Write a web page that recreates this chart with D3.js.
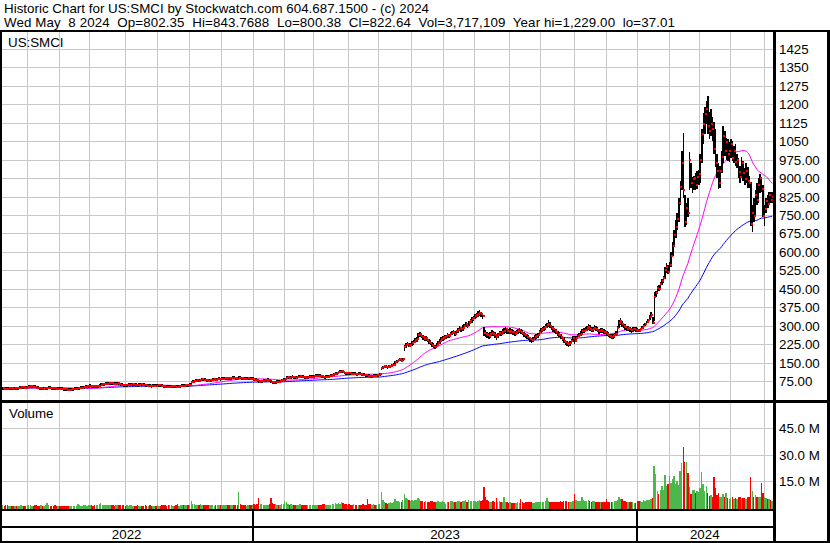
<!DOCTYPE html>
<html>
<head>
<meta charset="utf-8">
<script src="https://cdn.jsdelivr.net/npm/d3@7/dist/d3.min.js"></script>
<style>
body { margin: 0; background: #fff; }
svg text { font-family: "Liberation Sans", Arial, sans-serif; font-size: 13.33px; fill: #000; white-space: pre; }
</style>
</head>
<body>
<svg id="chart" width="830" height="543"></svg>
<script>
// trading days per month, May 2022 (from the 9th) .. May 2024 (to the 8th)
var monthDays = [16, 21, 20, 23, 21, 21, 21, 21,
                 20, 19, 23, 19, 22, 21, 20, 23, 20, 22, 21, 20,
                 21, 20, 20, 22, 6];
var yearLabels = ["2022", "2023", "2024"];
var monthsPerYear = [8, 12, 5];

var headerLines = [
    "Historic Chart for US:SMCI by Stockwatch.com 604.687.1500 - (c) 2024",
    "Wed May  8 2024  Op=802.35  Hi=843.7688  Lo=800.38  Cl=822.64  Vol=3,717,109  Year hi=1,229.00  lo=37.01"
];
var headerWidths = [425, 671];

var priceTicks = [75, 150, 225, 300, 375, 450, 525, 600, 675, 750, 825, 900, 975, 1050, 1125, 1200, 1275, 1350, 1425];
var priceTickLabels = ["75.00", "150.00", "225.00", "300.00", "375.00", "450.00", "525.00", "600.00", "675.00",
                       "750.00", "825.00", "900.00", "975.00", "1050", "1125", "1200", "1275", "1350", "1425"];
var volTicks = [15, 30, 45];
var volTickLabels = ["15.0 M", "30.0 M", "45.0 M"];

// daily closes / highs / lows, one line per month
var close2022 = [
    45.5, 44.2, 43.8, 43.0, 45.2, 46.0, 45.5, 44.0, 45.8, 45.0, 46.5, 47.8, 48.5, 49.2, 48.0, 47.6,
    49.5, 51.0, 52.5, 53.8, 52.0, 50.5, 48.0, 46.0, 44.5, 45.0, 43.5, 44.8, 45.5, 46.6, 47.5, 46.0, 45.2, 44.5, 44.4, 43.8, 44.2,
    44.0, 43.2, 42.5, 41.2, 40.5, 40.0, 39.5, 40.2, 41.0, 42.5, 43.2, 44.0, 45.5, 46.0, 47.2, 48.0, 49.5, 51.0, 53.5, 54.6,
    55.0, 54.0, 53.0, 52.5, 53.8, 54.5, 56.0, 60.5, 61.0, 62.5, 63.2, 64.0, 65.5, 66.8, 65.0, 63.5, 62.8, 64.5, 66.0, 64.0, 60.5, 59.0, 58.0,
    57.5, 58.8, 59.5, 60.0, 61.2, 62.0, 60.5, 59.0, 58.2, 59.8, 61.0, 60.0, 58.5, 57.0, 55.8, 56.5, 55.0, 54.0, 55.5, 56.2, 56.0,
    57.0, 58.5, 56.0, 54.2, 53.0, 52.0, 51.2, 50.5, 51.8, 53.0, 54.5, 53.2, 52.0, 51.5, 53.0, 54.8, 56.0, 55.2, 57.0, 58.5, 57.8,
    59.5, 71.0, 72.5, 74.0, 75.5, 77.0, 75.0, 79.5, 81.0, 80.0, 78.5, 77.2, 76.0, 77.8, 79.0, 80.5, 81.2, 80.0, 82.0, 83.0, 82.5,
    83.5, 84.0, 85.5, 87.0, 86.0, 85.2, 87.5, 89.0, 88.0, 86.5, 84.0, 88.5, 87.0, 85.8, 84.5, 83.0, 85.0, 86.0, 84.2, 83.0, 83.5
];
var high2022 = [
    46.8, 46.0, 45.1, 44.6, 45.9, 47.2, 46.9, 45.8, 46.5, 46.4, 47.0, 48.6, 49.3, 50.1, 49.5, 48.7,
    50.2, 51.9, 53.4, 55.0, 54.1, 52.3, 50.2, 47.6, 46.3, 45.9, 45.0, 45.5, 46.4, 47.3, 48.6, 47.8, 46.3, 45.7, 45.2, 44.9, 44.8,
    45.1, 44.5, 43.6, 42.8, 41.9, 41.2, 40.6, 40.9, 41.8, 43.0, 44.1, 44.7, 46.2, 46.9, 47.8, 48.9, 50.2, 51.8, 54.3, 55.4,
    56.2, 55.4, 54.3, 53.6, 54.5, 55.3, 56.8, 62.4, 62.0, 63.2, 64.1, 65.0, 66.3, 68.0, 67.1, 65.2, 64.0, 65.3, 66.9, 66.2, 63.1, 60.6, 59.4,
    58.6, 59.5, 60.4, 61.1, 62.0, 63.1, 62.2, 60.8, 59.4, 60.5, 61.9, 61.2, 60.0, 58.4, 57.1, 57.3, 56.6, 55.2, 56.3, 57.0, 57.1,
    57.9, 59.3, 58.4, 56.3, 54.6, 53.5, 52.4, 51.6, 52.4, 53.7, 55.3, 54.8, 53.4, 52.7, 53.6, 55.5, 56.8, 56.4, 57.7, 59.3, 59.0,
    60.4, 73.5, 74.0, 75.2, 76.8, 78.1, 77.4, 80.6, 82.3, 81.5, 80.4, 78.6, 77.5, 78.5, 79.9, 81.3, 82.4, 81.6, 82.9, 84.2, 83.8,
    84.8, 85.2, 86.4, 88.3, 87.6, 86.1, 88.2, 90.4, 89.6, 88.2, 86.3, 90.1, 88.8, 87.4, 86.0, 84.7, 85.9, 87.1, 86.0, 84.3, 84.6
];
var low2022 = [
    44.0, 43.6, 42.5, 42.2, 43.1, 44.8, 44.9, 43.2, 43.9, 44.3, 45.1, 46.2, 47.0, 48.0, 47.5, 46.8,
    47.4, 49.2, 50.6, 52.1, 51.5, 50.0, 47.6, 45.4, 44.0, 43.8, 43.0, 43.2, 44.5, 45.3, 46.4, 45.5, 44.6, 43.8, 43.5, 43.2, 43.3,
    43.1, 42.6, 41.8, 40.7, 39.8, 39.2, 38.6, 39.3, 40.2, 41.0, 42.4, 43.1, 43.9, 45.3, 46.1, 47.2, 48.3, 49.4, 51.0, 53.2,
    54.1, 53.5, 52.4, 51.6, 52.5, 53.4, 54.6, 57.5, 59.8, 60.7, 62.0, 62.8, 64.2, 65.3, 64.5, 63.0, 62.0, 62.9, 64.4, 63.5, 60.0, 58.3, 57.2,
    56.8, 57.4, 58.6, 59.2, 59.9, 61.1, 60.0, 58.4, 57.3, 58.0, 59.9, 59.4, 58.1, 56.4, 55.0, 55.4, 54.5, 53.2, 53.9, 55.1, 55.2,
    55.6, 57.1, 55.4, 53.7, 52.5, 51.4, 50.6, 49.7, 50.2, 51.6, 53.0, 52.8, 51.5, 50.6, 51.4, 53.1, 54.6, 54.7, 55.4, 57.2, 57.1,
    57.2, 66.0, 70.4, 72.1, 73.6, 75.6, 74.2, 76.0, 79.4, 79.1, 77.8, 76.5, 75.2, 76.0, 77.6, 78.8, 80.1, 79.2, 80.5, 82.0, 81.6,
    82.1, 82.9, 83.8, 85.4, 85.2, 84.3, 85.1, 87.6, 87.2, 85.8, 83.4, 84.5, 86.1, 85.0, 83.6, 82.2, 82.8, 84.9, 83.8, 82.4, 82.7
];
var close2023 = [
    80.0, 78.5, 77.0, 72.0, 73.5, 75.0, 76.2, 77.0, 78.5, 79.0, 78.0, 71.0, 70.0, 69.2, 70.5, 72.0, 71.0, 73.5, 77.5, 80.5,
    82.0, 88.5, 90.0, 89.0, 91.5, 92.0, 90.5, 89.0, 91.0, 93.0, 94.5, 92.8, 91.0, 89.5, 88.0, 90.2, 91.5, 92.5, 93.0,
    94.0, 95.5, 97.0, 96.2, 95.0, 93.8, 92.0, 90.5, 91.2, 93.0, 95.0, 96.8, 98.0, 101.5, 104.0, 106.2, 110.5, 112.0, 115.0, 110.2, 108.0, 106.5, 107.0,
    106.0, 104.5, 103.0, 105.0, 103.5, 102.0, 104.2, 103.0, 101.5, 100.0, 99.2, 98.0, 96.5, 96.0, 94.5, 95.2, 97.0, 96.5, 98.0,
    99.0, 101.5, 128.0, 132.5, 135.0, 133.0, 131.5, 134.0, 136.5, 138.0, 140.2, 152.0, 156.5, 160.0, 162.5, 158.0, 165.0, 214.0, 221.0, 226.5, 218.0, 223.0,
    228.0, 232.5, 240.0, 245.5, 262.0, 266.5, 258.0, 252.0, 246.0, 248.5, 240.0, 235.0, 228.0, 222.0, 218.0, 214.5, 221.0, 230.0, 238.5, 244.0, 249.5,
    252.0, 256.5, 262.0, 258.0, 266.0, 270.5, 274.0, 268.0, 276.5, 282.0, 288.5, 285.0, 292.0, 298.5, 305.0, 300.0, 312.0, 318.5, 325.0, 330.5,
    338.0, 342.5, 348.0, 352.0, 346.0, 340.0, 272.0, 268.0, 262.0, 258.0, 264.0, 270.0, 266.5, 260.0, 255.0, 262.0, 270.5, 268.0, 275.0, 280.0, 284.5, 278.0, 275.0,
    280.0, 276.0, 272.5, 268.0, 273.0, 278.0, 282.0, 276.0, 270.5, 266.0, 260.0, 255.0, 250.5, 244.0, 240.0, 247.0, 252.0, 258.0, 262.0, 274.0,
    282.0, 286.5, 290.0, 296.0, 302.0, 308.0, 298.0, 292.0, 286.0, 280.0, 275.0, 268.0, 262.0, 252.0, 246.0, 238.0, 232.0, 228.0, 224.0, 230.0, 236.0, 250.0,
    236.0, 248.0, 258.0, 262.5, 268.0, 276.5, 280.0, 284.0, 290.5, 295.0, 288.0, 282.0, 286.0, 292.0, 288.0, 282.5, 278.0, 284.0, 280.0, 276.0, 274.0,
    266.0, 262.0, 258.0, 254.0, 256.5, 262.0, 268.0, 290.0, 310.0, 318.0, 305.0, 300.0, 294.0, 288.0, 290.0, 286.0, 282.0, 284.5, 287.0, 284.0
];
var high2023 = [
    83.9, 80.8, 79.2, 76.5, 74.6, 75.9, 77.0, 78.1, 79.6, 80.2, 79.3, 76.8, 71.8, 70.6, 71.4, 73.0, 72.6, 74.2, 78.3, 81.4,
    83.4, 90.8, 91.2, 90.6, 92.4, 93.5, 92.2, 90.6, 91.8, 93.9, 95.8, 94.9, 92.9, 91.3, 89.6, 91.0, 92.4, 93.8, 94.2,
    94.9, 96.8, 98.2, 97.6, 96.4, 95.0, 93.7, 92.1, 92.4, 94.1, 96.2, 97.9, 99.2, 102.8, 105.5, 107.9, 112.0, 114.3, 117.0, 114.8, 111.0, 108.4, 108.2,
    107.8, 106.2, 104.9, 105.8, 105.4, 103.9, 105.1, 104.6, 102.9, 101.8, 100.6, 99.5, 98.6, 97.2, 96.3, 96.0, 97.8, 97.9, 98.8,
    100.2, 102.6, 133.0, 135.8, 137.4, 136.2, 134.0, 135.9, 138.2, 140.1, 142.8, 155.0, 159.8, 163.2, 166.0, 163.5, 168.4, 220.0, 228.0, 234.0, 229.0, 229.5,
    238, 242, 249, 254, 272, 276, 270, 263, 257, 256, 251, 245, 240, 233, 228, 223, 228, 237, 245, 252, 257,
    260, 263, 270, 268, 274, 279, 284, 280, 284, 291, 297, 295, 301, 307, 314, 312, 320, 327, 335, 341,
    346, 352, 358, 362, 357, 351, 296, 284, 276, 270, 273, 281, 278, 273, 267, 271, 280, 279, 285, 292, 296, 291, 286,
    289, 287, 283, 278, 281, 287, 292, 288, 281, 276, 271, 266, 260, 255, 250, 254, 261, 266, 271, 283,
    292, 296, 299, 305, 312, 321, 314, 304, 297, 291, 286, 280, 273, 265, 257, 250, 243, 239, 235, 238, 245, 259,
    257, 256, 267, 271, 277, 285, 290, 294, 300, 305, 301, 293, 295, 301, 299, 294, 288, 292, 290, 286, 284,
    278, 273, 268, 264, 265, 270, 277, 300, 321, 332, 320, 311, 305, 298, 299, 296, 292, 293, 296, 294
];
var low2023 = [
    79.2, 77.6, 76.1, 71.2, 71.8, 73.0, 74.9, 75.8, 76.9, 78.1, 77.3, 70.4, 69.1, 68.0, 69.0, 70.5, 70.3, 71.2, 73.9, 77.6,
    80.6, 84.2, 88.1, 88.0, 89.2, 90.8, 89.9, 88.2, 89.4, 91.1, 93.0, 92.0, 90.3, 88.7, 87.0, 88.1, 90.0, 91.3, 92.1,
    92.6, 93.7, 95.4, 95.4, 94.3, 93.0, 91.1, 89.6, 89.9, 91.0, 93.2, 95.1, 96.9, 98.6, 101.7, 104.0, 106.8, 110.1, 111.9, 109.6, 107.1, 105.4, 105.6,
    105.2, 103.8, 102.1, 102.6, 102.9, 101.1, 101.8, 102.2, 100.7, 99.3, 98.4, 97.1, 95.2, 94.8, 93.6, 93.9, 94.7, 95.6, 96.2,
    97.1, 99.2, 119.0, 126.4, 131.2, 130.8, 129.4, 130.6, 133.1, 135.6, 137.4, 146.0, 151.2, 155.4, 158.8, 155.0, 157.5, 196.0, 210.4, 216.0, 212.0, 213.6,
    217, 222, 229, 234, 245, 254, 250, 243, 237, 238, 232, 226, 220, 212, 208, 204, 210, 216, 226, 233, 238,
    242, 246, 251, 249, 254, 260, 264, 258, 264, 271, 277, 275, 280, 287, 293, 290, 298, 306, 312, 318,
    325, 331, 336, 340, 335, 329, 256, 255, 251, 245, 250, 257, 256, 249, 243, 249, 258, 257, 262, 267, 272, 267, 265,
    268, 267, 263, 258, 261, 267, 272, 266, 261, 255, 249, 244, 240, 234, 229, 235, 241, 246, 251, 258,
    269, 275, 279, 284, 290, 295, 289, 282, 276, 270, 265, 259, 252, 244, 236, 228, 223, 218, 213, 217, 224, 235,
    226, 235, 245, 252, 257, 264, 270, 274, 279, 284, 280, 273, 275, 281, 279, 274, 268, 272, 271, 266, 264,
    257, 253, 248, 244, 246, 251, 257, 270, 291, 303, 295, 290, 283, 278, 280, 276, 272, 274, 277, 274
];
var close2024 = [
    282, 279, 288, 291, 300, 306, 313, 322, 335, 345, 312, 415, 432, 455, 448, 470, 480, 492, 525, 540, 520,
    545, 585, 625, 670, 700, 735, 800, 865, 960, 850, 720, 780, 760, 975, 880, 895, 900, 870, 905, 915,
    975, 1080, 1120, 1160, 1180, 1110, 1090, 1120, 1100, 1020, 960, 930, 880, 930, 985, 1070, 1010, 1045, 1000, 1010,
    1040, 980, 1010, 965, 975, 925, 905, 960, 920, 895, 930, 890, 880, 713, 760, 745, 830, 810, 870, 900, 855, 745,
    775, 805, 795, 830, 810, 822.64
];
var high2024 = [
    289, 286, 292, 296, 305, 312, 318, 328, 342, 356, 335, 435, 442, 462, 465, 478, 490, 500, 540, 555, 548,
    560, 600, 640, 690, 730, 760, 820, 890, 1010, 1083, 830, 800, 820, 1005, 960, 905, 910, 920, 930, 935,
    1000, 1100, 1165, 1190, 1215, 1232, 1170, 1180, 1150, 1130, 1100, 1000, 960, 950, 1010, 1110, 1090, 1065, 1060, 1045,
    1060, 1050, 1030, 1040, 1000, 980, 950, 985, 970, 940, 960, 945, 910, 885, 790, 820, 850, 880, 900, 915, 905, 870,
    790, 820, 830, 845, 845, 843.77
];
var low2024 = [
    276, 273, 279, 285, 292, 298, 305, 315, 324, 336, 308, 320, 418, 428, 440, 446, 466, 475, 490, 515, 512,
    515, 540, 585, 620, 655, 690, 720, 790, 850, 820, 700, 710, 740, 850, 860, 840, 850, 850, 855, 870,
    880, 960, 1040, 1080, 1120, 1080, 1060, 1070, 1050, 1000, 945, 900, 855, 860, 920, 960, 990, 975, 970, 965,
    980, 970, 960, 950, 940, 900, 880, 900, 890, 870, 880, 860, 860, 705, 680, 720, 740, 790, 800, 840, 845, 740,
    705, 760, 780, 790, 800, 800.38
];

// daily volume, millions of shares
var vol2022 = [
    0.9, 0.8, 1.0, 0.9, 0.7, 0.6, 0.7, 0.8, 0.6, 0.7, 0.6, 0.8, 0.9, 0.7, 0.6, 0.8,
    0.9, 1.2, 1.0, 0.8, 0.7, 0.9, 1.1, 0.8, 0.7, 0.9, 0.8, 0.7, 1.0, 2.1, 0.9, 0.8, 0.6, 0.7, 1.2, 0.8, 0.7,
    0.6, 0.7, 0.5, 0.6, 0.8, 0.6, 0.5, 0.7, 0.6, 0.8, 0.7, 0.6, 1.8, 1.0, 0.8, 0.8, 0.9, 1.0, 0.8, 0.9,
    1.0, 0.9, 0.8, 0.9, 1.0, 1.1, 1.5, 2.2, 1.4, 1.2, 1.3, 1.0, 1.2, 1.1, 0.9, 1.0, 0.8, 1.2, 1.3, 1.0, 1.1, 0.9, 1.0,
    0.8, 0.9, 0.7, 0.9, 1.0, 0.8, 0.7, 0.8, 0.9, 0.8, 0.7, 0.6, 0.8, 0.9, 0.7, 0.8, 0.9, 0.7, 0.8, 0.6, 0.7,
    0.9, 0.8, 0.7, 1.1, 1.0, 0.9, 0.8, 0.9, 1.1, 1.0, 0.8, 0.7, 0.9, 1.5, 0.8, 0.9, 1.3, 0.9, 1.0, 1.2, 1.1,
    1.2, 3.6, 1.8, 1.5, 1.3, 1.2, 1.4, 1.6, 1.2, 1.1, 1.0, 0.9, 1.0, 1.2, 1.1, 0.9, 0.8, 0.9, 1.0, 1.1, 1.2,
    1.0, 0.9, 1.1, 1.2, 1.0, 0.9, 1.1, 1.3, 1.0, 1.2, 1.4, 8.4, 1.5, 1.2, 1.0, 0.9, 0.8, 1.0, 0.9, 1.1, 1.0
];
var vol2023 = [
    1.5, 1.3, 1.6, 5.0, 2.0, 1.5, 1.2, 1.4, 1.3, 1.2, 1.5, 5.0, 2.2, 1.8, 1.5, 1.3, 1.2, 1.4, 1.6, 1.8,
    3.2, 2.8, 1.6, 1.4, 1.5, 1.3, 1.2, 1.4, 1.1, 1.3, 1.5, 1.2, 1.0, 1.1, 1.3, 1.2, 1.0, 1.1, 1.2,
    1.2, 1.3, 1.4, 1.1, 1.0, 1.2, 1.5, 1.8, 1.4, 1.3, 1.2, 1.4, 1.5, 1.9, 2.2, 1.8, 2.4, 2.0, 2.6, 2.1, 1.7, 1.5, 1.4,
    1.5, 1.4, 1.3, 1.5, 1.2, 1.1, 1.4, 1.2, 1.3, 1.5, 1.2, 1.1, 4.4, 1.6, 1.8, 1.4, 1.5, 1.3, 1.2,
    1.8, 2.0, 8.4, 4.0, 3.0, 2.4, 2.0, 2.2, 2.6, 2.4, 2.8, 4.5, 3.5, 3.2, 3.0, 2.8, 4.0, 7.6, 5.2, 4.8, 4.0, 3.6,
    3.8, 3.5, 4.0, 3.8, 5.0, 4.6, 3.6, 3.2, 3.0, 3.4, 3.1, 2.9, 3.5, 3.2, 3.0, 2.8, 3.0, 3.3, 3.1, 2.9, 3.2,
    2.8, 1.8, 3.0, 2.6, 3.2, 3.4, 3.0, 2.7, 3.1, 3.5, 3.3, 2.9, 3.2, 3.6, 3.8, 3.0, 4.0, 3.6, 3.4, 3.2,
    3.4, 3.1, 3.6, 3.8, 3.3, 4.2, 11.7, 5.6, 4.0, 3.5, 3.0, 2.8, 3.2, 3.0, 5.4, 3.1, 3.4, 2.8, 3.0, 6.0, 2.9, 2.6, 2.5,
    2.6, 2.4, 2.2, 2.5, 2.3, 2.6, 2.4, 4.6, 2.8, 2.5, 2.7, 2.9, 2.6, 3.0, 2.8, 2.5, 2.4, 2.6, 2.7, 3.1,
    2.8, 2.9, 3.1, 3.3, 5.0, 3.6, 3.0, 2.8, 2.6, 2.9, 2.7, 3.0, 2.8, 3.2, 3.0, 3.3, 3.4, 3.6, 3.1, 3.0, 2.9, 3.2,
    7.3, 4.0, 3.5, 3.2, 3.6, 6.0, 3.8, 3.4, 3.6, 3.9, 3.3, 3.0, 3.2, 3.4, 3.1, 2.9, 2.8, 3.0, 2.7, 2.9, 2.8,
    4.4, 3.0, 2.8, 2.9, 3.1, 3.3, 3.6, 4.2, 5.6, 4.8, 4.4, 3.5, 3.2, 3.0, 2.9, 2.7, 2.6, 2.8, 2.5, 2.4
];
var vol2024 = [
    3.6, 3.2, 3.4, 3.0, 3.8, 3.5, 3.8, 4.0, 4.2, 4.6, 5.0, 23.6, 19.0, 9.0, 7.3, 10.0, 11.8, 9.5, 18.4, 12.0, 13.2,
    17.7, 14.0, 16.0, 18.0, 13.0, 15.0, 12.6, 20.3, 25.2, 34.4, 26.0, 26.0, 19.5, 11.4, 7.5, 10.0, 10.0, 8.0, 9.0, 8.5,
    11.0, 20.0, 13.0, 9.0, 11.8, 8.0, 6.3, 7.0, 6.0, 17.0, 10.8, 7.0, 8.0, 6.0, 5.5, 7.5, 6.0, 8.0, 5.0, 4.8,
    5.0, 5.5, 4.8, 5.0, 4.5, 6.0, 5.5, 5.0, 5.2, 5.0, 4.5, 6.0, 5.5, 17.0, 9.0, 6.0, 7.0, 6.0, 5.5, 6.0, 14.0, 8.0,
    5.6, 5.0, 4.6, 4.5, 4.0, 3.7
];

var smaDays = 30;   // pink, simple
var emaDays = 100;  // blue, exponential

var closes = close2022.concat(close2023, close2024);
var highs = high2022.concat(high2023, high2024);
var lows = low2022.concat(low2023, low2024);
var vols = vol2022.concat(vol2023, vol2024);
var N = d3.sum(monthDays);
[closes, highs, lows, vols].forEach(function(a) {
    if (a.length != N) throw new Error("length " + a.length + " != " + N);
});

function simpleAverage(arr, n) {
    // uses whatever history there is at the start of the series
    return arr.map(function(d, i) {
        return d3.mean(arr.slice(Math.max(0, i - n + 1), i + 1));
    });
}
function expAverage(arr, n) {
    var k = 2 / (n + 1), prev = arr[0];
    return arr.map(function(d) {
        prev = prev + k * (d - prev);
        return prev;
    });
}
var maS = simpleAverage(closes, smaDays);
var maL = expAverage(closes, emaDays);

// layout
var plotLeft = 2, plotRight = 773;
var priceTop = 31, priceBottom = 400;
var volTop = 402, volBottom = 509;

var x = d3.scaleLinear().domain([0, N]).range([plotLeft, plotRight]);
var y = d3.scaleLinear().domain([0, 1500]).range([399.4, 30.6]);
var yv = d3.scaleLinear().domain([0, 60]).range([507, 402]);

var svg = d3.select("#chart");
svg.append("rect").attr("width", 830).attr("height", 543).attr("fill", "#fff");

// header
svg.selectAll("text.head")
    .data(headerLines).enter()
    .append("text")
    .attr("class", "head")
    .attr("x", 4)
    .attr("y", function(d, i) { return 13 + i * 13.5; })
    .attr("textLength", function(d, i) { return headerWidths[i]; })
    .attr("lengthAdjust", "spacing")
    .text(function(d) { return d; });

// month starts
var monthStarts = [];
var acc = 0;
monthDays.forEach(function(n) { monthStarts.push(acc); acc += n; });
var yearStarts = [];
var m = 0;
monthsPerYear.forEach(function(n) { yearStarts.push(monthStarts[m]); m += n; });

var grid = svg.append("g").attr("stroke", "#c8c8c8").attr("stroke-width", 1).attr("shape-rendering", "crispEdges");
grid.selectAll("line.h")
    .data(priceTicks).enter()
    .append("line")
    .attr("x1", 0).attr("x2", plotRight)
    .attr("y1", function(d) { return Math.round(y(d)) + 0.5; })
    .attr("y2", function(d) { return Math.round(y(d)) + 0.5; });
grid.selectAll("line.vh")
    .data(volTicks).enter()
    .append("line")
    .attr("x1", 0).attr("x2", plotRight)
    .attr("y1", function(d) { return Math.round(yv(d)) + 0.5; })
    .attr("y2", function(d) { return Math.round(yv(d)) + 0.5; });
grid.selectAll("line.v")
    .data(monthStarts.slice(1)).enter()
    .append("line")
    .attr("x1", function(d) { return Math.round(x(d)) + 0.5; })
    .attr("x2", function(d) { return Math.round(x(d)) + 0.5; })
    .attr("y1", priceTop).attr("y2", volBottom)

// moving averages
var idx = d3.range(N);
var lineS = d3.line().x(function(i) { return x(i + 0.5); }).y(function(i) { return y(maS[i]); });
var lineL = d3.line().x(function(i) { return x(i + 0.5); }).y(function(i) { return y(maL[i]); });
svg.append("path").attr("d", lineL(idx)).attr("fill", "none").attr("stroke", "#0000ff").attr("stroke-width", 1);
svg.append("path").attr("d", lineS(idx)).attr("fill", "none").attr("stroke", "#ff00ff").attr("stroke-width", 1);

// price bars: high-low stick with the close marked in red
var minBar = 3;
function barTop(i) {
    var t = y(highs[i]), b = y(lows[i]);
    return (b - t < minBar) ? (t + b) / 2 - minBar / 2 : t;
}
function barHeight(i) {
    return Math.max(minBar, y(lows[i]) - y(highs[i]));
}
var bars = svg.append("g").attr("shape-rendering", "crispEdges");
bars.selectAll("rect.bar")
    .data(idx).enter()
    .append("rect")
    .attr("x", function(i) { return x(i + 0.5) - 0.7; })
    .attr("width", 1.6)
    .attr("y", barTop)
    .attr("height", barHeight)
    .attr("fill", "#000");
bars.selectAll("rect.cl")
    .data(idx).enter()
    .append("rect")
    .attr("x", function(i) { return x(i + 0.5); })
    .attr("width", 2)
    .attr("y", function(i) { return y(closes[i]) - 1; })
    .attr("height", 2)
    .attr("fill", "#ff0000");

// volume bars, coloured by change from the day before
svg.append("g").attr("shape-rendering", "crispEdges")
    .selectAll("rect")
    .data(idx).enter()
    .append("rect")
    .attr("x", function(i) { return x(i); })
    .attr("width", 1.4)
    .attr("y", function(i) { return yv(vols[i]); })
    .attr("height", function(i) { return volBottom - yv(vols[i]); })
    .attr("fill", function(i) { return (i > 0 && closes[i] < closes[i - 1]) ? "#ff0000" : "#4cb84c"; });

// panel labels
svg.append("text").attr("x", 8).attr("y", 47).text("US:SMCI");
svg.append("text").attr("x", 9).attr("y", 418).text("Volume");

// right axes
svg.selectAll("text.pt")
    .data(priceTicks).enter()
    .append("text")
    .attr("x", 779)
    .attr("y", function(d) { return y(d) + 5; })
    .text(function(d, i) { return priceTickLabels[i]; });
svg.selectAll("text.vt")
    .data(volTicks).enter()
    .append("text")
    .attr("x", 779)
    .attr("y", function(d) { return yv(d) + 5; })
    .text(function(d, i) { return volTickLabels[i]; });

// frame
var frame = svg.append("g").attr("fill", "#000").attr("shape-rendering", "crispEdges");
frame.append("rect").attr("x", 0).attr("y", 30).attr("width", 830).attr("height", 2);
frame.append("rect").attr("x", 0).attr("y", 30).attr("width", 2).attr("height", 513);
frame.append("rect").attr("x", 827).attr("y", 30).attr("width", 3).attr("height", 513);
frame.append("rect").attr("x", plotRight).attr("y", 30).attr("width", 3).attr("height", 513);
frame.append("rect").attr("x", 0).attr("y", 400).attr("width", 830).attr("height", 3);
frame.append("rect").attr("x", 0).attr("y", volBottom).attr("width", plotRight).attr("height", 2);
frame.append("rect").attr("x", 0).attr("y", 526).attr("width", plotRight).attr("height", 2);
frame.append("rect").attr("x", 0).attr("y", 541).attr("width", 830).attr("height", 2);
frame.selectAll("rect.ys")
    .data(yearStarts.slice(1)).enter()
    .append("rect")
    .attr("x", function(d) { return Math.round(x(d)) - 1; })
    .attr("y", volBottom)
    .attr("width", 2)
    .attr("height", 33);

// year labels
var yearEdges = [0].concat(yearStarts.slice(1).map(function(d) { return x(d); }), [plotRight]);
svg.selectAll("text.yr")
    .data(yearLabels).enter()
    .append("text")
    .attr("x", function(d, i) { return (yearEdges[i] + yearEdges[i + 1]) / 2; })
    .attr("y", 539)
    .attr("text-anchor", "middle")
    .text(function(d) { return d; });
</script>
</body>
</html>
